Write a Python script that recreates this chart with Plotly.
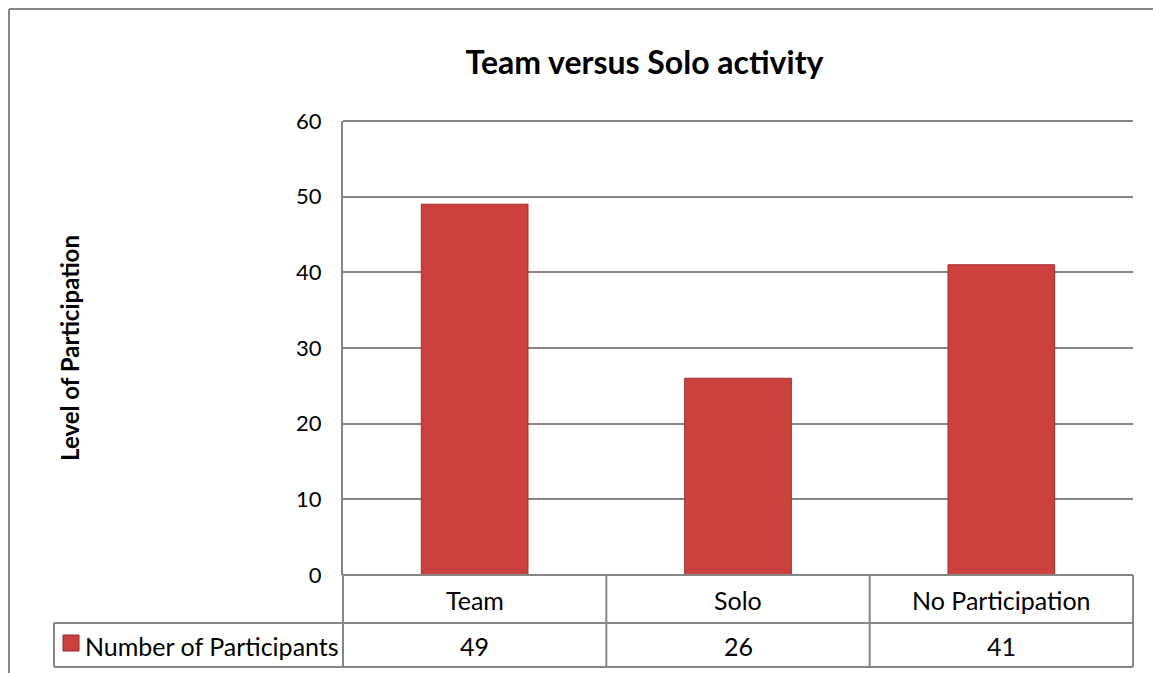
import plotly.graph_objects as go

categories = ["Team", "Solo", "No Participation"]
participants = [49, 26, 41]
series_name = "Number of Participants"
y_ticks = [0, 10, 20, 30, 40, 50, 60]

W, H = 1153, 673
L, R, T, B = 343, 1133, 121, 575
PW, PH = R - L, B - T


def px(x):
    return (x - L) / PW


def py(y):
    return (B - y) / PH


GRID = "#868686"
FONT = "Lato"
TABLE_SIZE = 25

fig = go.Figure()
fig.add_trace(go.Bar(
    x=categories, y=participants, name=series_name,
    marker=dict(color="#CC403D", line=dict(color="#9C2E2D", width=1)),
    width=0.405, showlegend=False,
))

shapes = []
line = dict(color=GRID, width=2)
# chart outer border (top and left visible)
shapes.append(dict(type="line", xref="paper", yref="paper", x0=px(9), x1=px(1160), y0=py(9), y1=py(9), line=line))
shapes.append(dict(type="line", xref="paper", yref="paper", x0=px(9), x1=px(9), y0=py(9), y1=py(690), line=line))
# top gridline
shapes.append(dict(type="line", xref="paper", yref="paper", x0=0, x1=1, y0=1, y1=1, line=line, layer="below"))
# data table horizontal lines
shapes.append(dict(type="line", xref="paper", yref="paper", x0=0, x1=1, y0=py(575), y1=py(575), line=line))
shapes.append(dict(type="line", xref="paper", yref="paper", x0=px(54), x1=1, y0=py(623), y1=py(623), line=line))
shapes.append(dict(type="line", xref="paper", yref="paper", x0=px(54), x1=1, y0=py(667), y1=py(667), line=line))
# data table vertical lines
shapes.append(dict(type="line", xref="paper", yref="paper", x0=px(54), x1=px(54), y0=py(623), y1=py(667), line=line))
for i in range(len(categories) + 1):
    xp = i / len(categories)
    shapes.append(dict(type="line", xref="paper", yref="paper", x0=xp, x1=xp, y0=py(575), y1=py(667), line=line))
# legend key
shapes.append(dict(type="rect", xref="paper", yref="paper", x0=px(63), x1=px(79), y0=py(651), y1=py(635),
                   fillcolor="#CC403D", line=dict(color="#8E2A29", width=1)))

annotations = []
for i, (c, v) in enumerate(zip(categories, participants)):
    annotations.append(dict(x=c, xref="x", y=py(600), yref="paper", text=c, showarrow=False,
                            font=dict(family=FONT, size=TABLE_SIZE, color="#000"), xanchor="center", yanchor="middle"))
    annotations.append(dict(x=c, xref="x", y=py(646), yref="paper", text=str(v), showarrow=False,
                            font=dict(family=FONT, size=TABLE_SIZE, color="#000"), xanchor="center", yanchor="middle"))
annotations.append(dict(x=px(83), xref="paper", y=py(646), yref="paper", text=series_name, showarrow=False,
                        font=dict(family=FONT, size=TABLE_SIZE, color="#000"), xanchor="left", yanchor="middle"))

fig.update_layout(
    width=W, height=H,
    margin=dict(l=L, r=W - R, t=T, b=H - B, pad=0),
    paper_bgcolor="white", plot_bgcolor="white",
    title=dict(text="<b>Team versus Solo activity</b>", x=(482 + 807) / 2 / W, xanchor="center",
               y=1 - 63 / H, yanchor="middle", font=dict(family=FONT, size=32, color="#000")),
    xaxis=dict(showticklabels=False, showgrid=False, showline=False, zeroline=False, ticks="",
               range=[-0.5, 2.5], fixedrange=True),
    yaxis=dict(range=[0, 60], tickvals=y_ticks, showgrid=True, gridcolor=GRID, gridwidth=2,
               showline=True, linecolor=GRID, linewidth=2, zeroline=False, ticks="",
               tickfont=dict(family=FONT, size=22, color="#000"), ticklabelstandoff=15,
               title=dict(text="<b>Level of Participation</b>", font=dict(family=FONT, size=24, color="#000"),
                          standoff=0)),
    bargap=0.6,
    shapes=shapes, annotations=annotations,
)
fig.update_yaxes(title_standoff=210)

fig.write_html("out.html")
